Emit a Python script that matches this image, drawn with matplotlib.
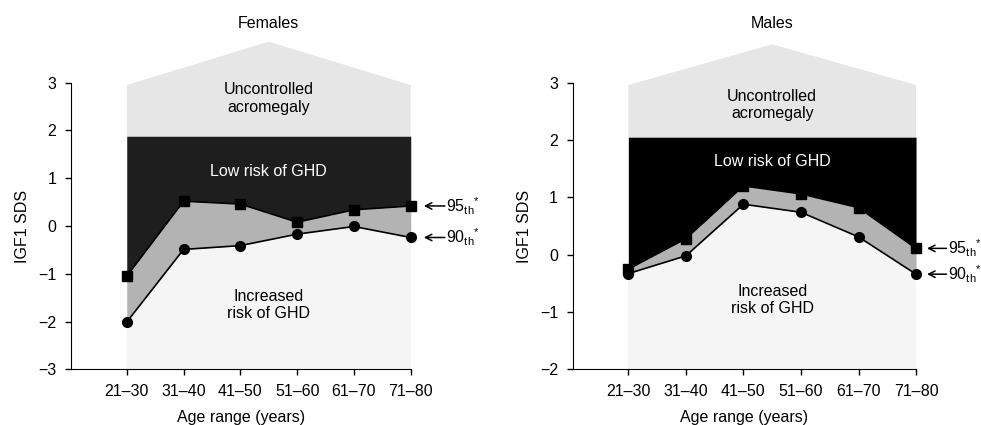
import matplotlib.pyplot as plt
from matplotlib import transforms

plt.rcParams['font.family'] = ['Liberation Sans', 'DejaVu Sans']
plt.rcParams['mathtext.fontset'] = 'custom'
plt.rcParams['mathtext.rm'] = 'Liberation Sans'
plt.rcParams['font.size'] = 11.5

age_groups = ['21–30', '31–40', '41–50', '51–60', '61–70', '71–80']

# females
fem_p95 = [-1.05, 0.52, 0.46, 0.08, 0.34, 0.42]
fem_p90 = [-2.01, -0.49, -0.41, -0.17, -0.01, -0.24]
fem_low_top = 1.88           # top of "low risk" zone
fem_roof = [2.95, 3.86]      # acromegaly roof: base, peak
fem_yticks = [-3, -2, -1, 0, 1, 2, 3]

# males
male_p95 = [-0.25, 0.28, 1.2, 1.06, 0.82, 0.11]
male_p90 = [-0.33, -0.02, 0.88, 0.74, 0.31, -0.34]
male_low_top = 2.05
male_roof = [2.96, 3.67]
male_yticks = [-2, -1, 0, 1, 2, 3]


def draw_panel(ax, title, p95, p90, low_top, roof, yticks, dark, txt_y, arrow_x):
    x = list(range(len(age_groups)))
    x0, x1 = x[0], x[-1]
    xm = (x0 + x1) / 2
    ymin = yticks[0]

    # shaded zones
    ax.fill([x0, x0, xm, x1, x1], [low_top, roof[0], roof[1], roof[0], low_top],
            color='#e6e6e6', lw=0, clip_on=False)
    ax.fill_between([x0, x1], ymin, low_top, color='#f5f5f5', lw=0)
    ax.fill_between(x, p95, low_top, color=dark, lw=0)
    ax.fill_between(x, p90, p95, color='#b3b3b3', lw=0)

    ax.plot(x, p95, color='k', lw=1.2, marker='s', ms=6.5, clip_on=False, zorder=5)
    ax.plot(x, p90, color='k', lw=1.2, marker='o', ms=7, clip_on=False, zorder=5)

    ax.text(xm, txt_y[0], 'Uncontrolled\nacromegaly', ha='center', va='center',
            linespacing=1.2)
    ax.text(xm, txt_y[1], 'Low risk of GHD', ha='center', va='center', color='white')
    ax.text(xm, txt_y[2], 'Increased\nrisk of GHD', ha='center', va='center',
            linespacing=1.2)

    # percentile pointers
    for val, lab in [(p95[-1], '95$_{\\mathrm{th}}{}^{*}$'), (p90[-1], '90$_{\\mathrm{th}}{}^{*}$')]:
        ax.annotate('', xy=(arrow_x[0], val), xytext=(arrow_x[1], val),
                    arrowprops=dict(arrowstyle='->', lw=1.1, color='k',
                                    shrinkA=0, shrinkB=0),
                    annotation_clip=False)
        ax.text(arrow_x[1] + 0.02, val, lab, ha='left', va='center', clip_on=False)

    trans = transforms.blended_transform_factory(ax.transData, ax.figure.transFigure)
    ax.text(xm, 0.945, title, ha='center', va='center', transform=trans)

    ax.set_ylim(yticks[0], yticks[-1])
    ax.set_yticks(yticks)
    ax.set_xticks(x)
    ax.set_xticklabels(age_groups)
    ax.set_xlabel('Age range (years)', labelpad=8)
    ax.set_ylabel('IGF1 SDS', labelpad=6)
    ax.spines['top'].set_visible(False)
    ax.spines['right'].set_visible(False)
    ax.tick_params(length=4.5, width=1, pad=6)


fig = plt.figure(figsize=(9.81, 4.25), dpi=100)
ax1 = fig.add_axes([0.0724, 0.131, 0.3463, 0.6744])
ax2 = fig.add_axes([0.5838, 0.131, 0.35, 0.6744])

draw_panel(ax1, 'Females', fem_p95, fem_p90, fem_low_top, fem_roof, fem_yticks,
           '#1e1e1e', [2.67, 1.15, -1.65], [5.23, 5.6])
ax1.set_xlim(-0.981, 5)

draw_panel(ax2, 'Males', male_p95, male_p90, male_low_top, male_roof, male_yticks,
           '#000000', [2.61, 1.62, -0.79], [5.19, 5.53])
ax2.set_xlim(-0.967, 5)

plt.savefig('out.png', dpi=100)
